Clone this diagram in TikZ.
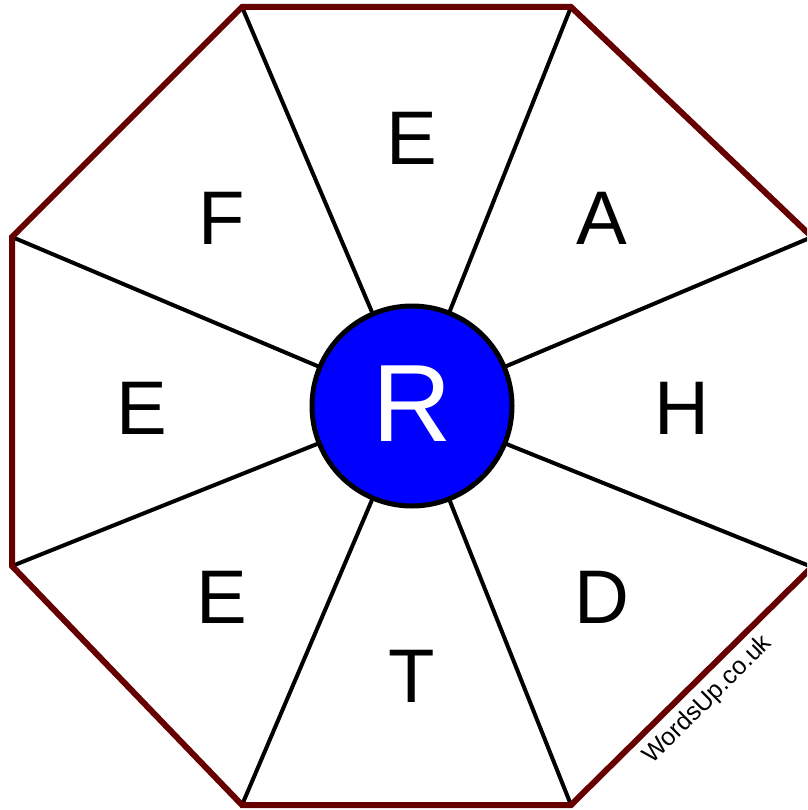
\documentclass[tikz,border=0pt]{standalone}
\usepackage{fontspec}
\setmainfont{Liberation Sans}
\begin{document}
\begin{tikzpicture}[x=1pt,y=-1pt,
  letter/.style={font=\fontsize{76}{76}\selectfont, text=black},
  spoke/.style={line width=4pt, black},
  rim/.style={line width=6pt, draw={rgb,255:red,102;green,0;blue,0}, line join=miter}]
\useasboundingbox (0,0) rectangle (807,810);
\clip (0,0) rectangle (807,810);
\coordinate (c) at (412,406);
\coordinate (v1) at (242,7);
\coordinate (v2) at (571,7);
\coordinate (v3) at (812,237);
\coordinate (v4) at (812,567);
\coordinate (v5) at (571,805);
\coordinate (v6) at (242,805);
\coordinate (v7) at (12,566);
\coordinate (v8) at (12,237);
\foreach \v in {v1,v2,v3,v4,v5,v6,v7,v8} \draw[spoke] (c) -- (\v);
\draw[rim] (v1) -- (v2) -- (v3) -- (v4) -- (v5) -- (v6) -- (v7) -- (v8) -- cycle;
\node[circle, minimum size=200pt, inner sep=0pt, fill={rgb,255:red,0;green,0;blue,255}, draw=black, line width=5pt] (hub) at (c) {};
\node[letter, text=white, font=\fontsize{110}{110}\selectfont] (r) at (412,404) {R};
\node[letter] (l1) at (412,138) {E};
\node[letter] (l2) at (602,218) {A};
\node[letter] (l3) at (682,408) {H};
\node[letter] (l4) at (602,597) {D};
\node[letter] (l5) at (412,676) {T};
\node[letter] (l6) at (222,597) {E};
\node[letter] (l7) at (142,408) {E};
\node[letter] (l8) at (222,218) {F};
\node[rotate=45, inner sep=0pt, font=\fontsize{25}{25}\selectfont] (wm) at (708,700) {WordsUp.co.uk};
\end{tikzpicture}
\end{document}
